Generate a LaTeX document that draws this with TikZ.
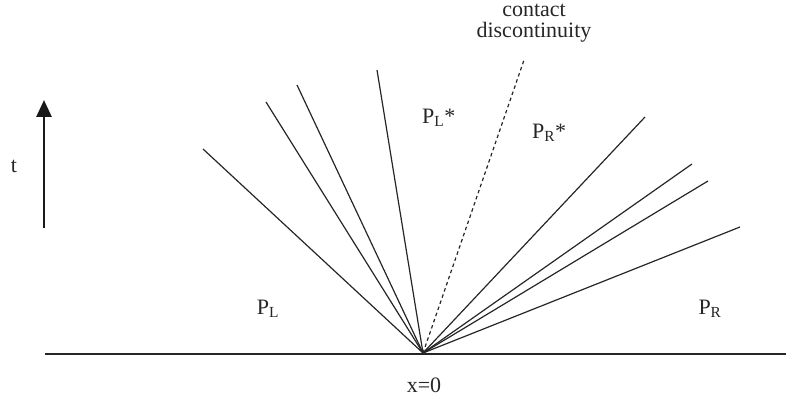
\documentclass[tikz,border=0pt]{standalone}
\usepackage{fontspec}
\setmainfont{Liberation Serif}
\usetikzlibrary{arrows.meta}
\begin{document}
\begin{tikzpicture}[x=1pt,y=-1pt,
  wave/.style={line width=1.2pt,black!85},
  contact/.style={line width=1.2pt,dashed,dash pattern=on 3.5pt off 3pt,black!85},
  lbl/.style={inner sep=0pt,font=\fontsize{22}{25}\selectfont,text=black!85},
  every node/.style={lbl}]
\useasboundingbox (0,0) rectangle (799,403);
\coordinate (o) at (423,353);
\coordinate (gl) at (45,354);
\coordinate (gr) at (786,354);
\draw[line width=2.6pt,black!85] (gl) -- (gr);
% left fan
\coordinate (l1) at (203,149);
\coordinate (l2) at (266,102);
\coordinate (l3) at (297,85);
\coordinate (l4) at (377,70);
\foreach \c in {l1,l2,l3,l4} \draw[wave] (o) -- (\c);
% contact
\coordinate (cd) at (524,60);
\draw[contact] (o) -- (cd);
% right fan
\coordinate (r1) at (645,117);
\coordinate (r2) at (692,164);
\coordinate (r3) at (708,181);
\coordinate (r4) at (740,227);
\foreach \c in {r1,r2,r3,r4} \draw[wave] (o) -- (\c);
% time arrow
\coordinate (ta) at (44,228);
\coordinate (tb) at (44,100);
\draw[line width=2.8pt,black!90,-{Triangle[length=17pt,width=15pt]}] (ta) -- (tb);
\node (t) at (14,166) {t};
% labels
\node (c1) at (534,10) {contact};
\node (c2) at (534,32) {discontinuity};
\node[anchor=west] (pls) at (422,118) {P$_{\mathrm{L}}$*};
\node[anchor=west] (prs) at (532,133) {P$_{\mathrm{R}}$*};
\node (pl) at (268,309) {P$_{\mathrm{L}}$};
\node (pr) at (710,309) {P$_{\mathrm{R}}$};
\node (x0) at (424,385) {x=0};
\end{tikzpicture}
\end{document}
